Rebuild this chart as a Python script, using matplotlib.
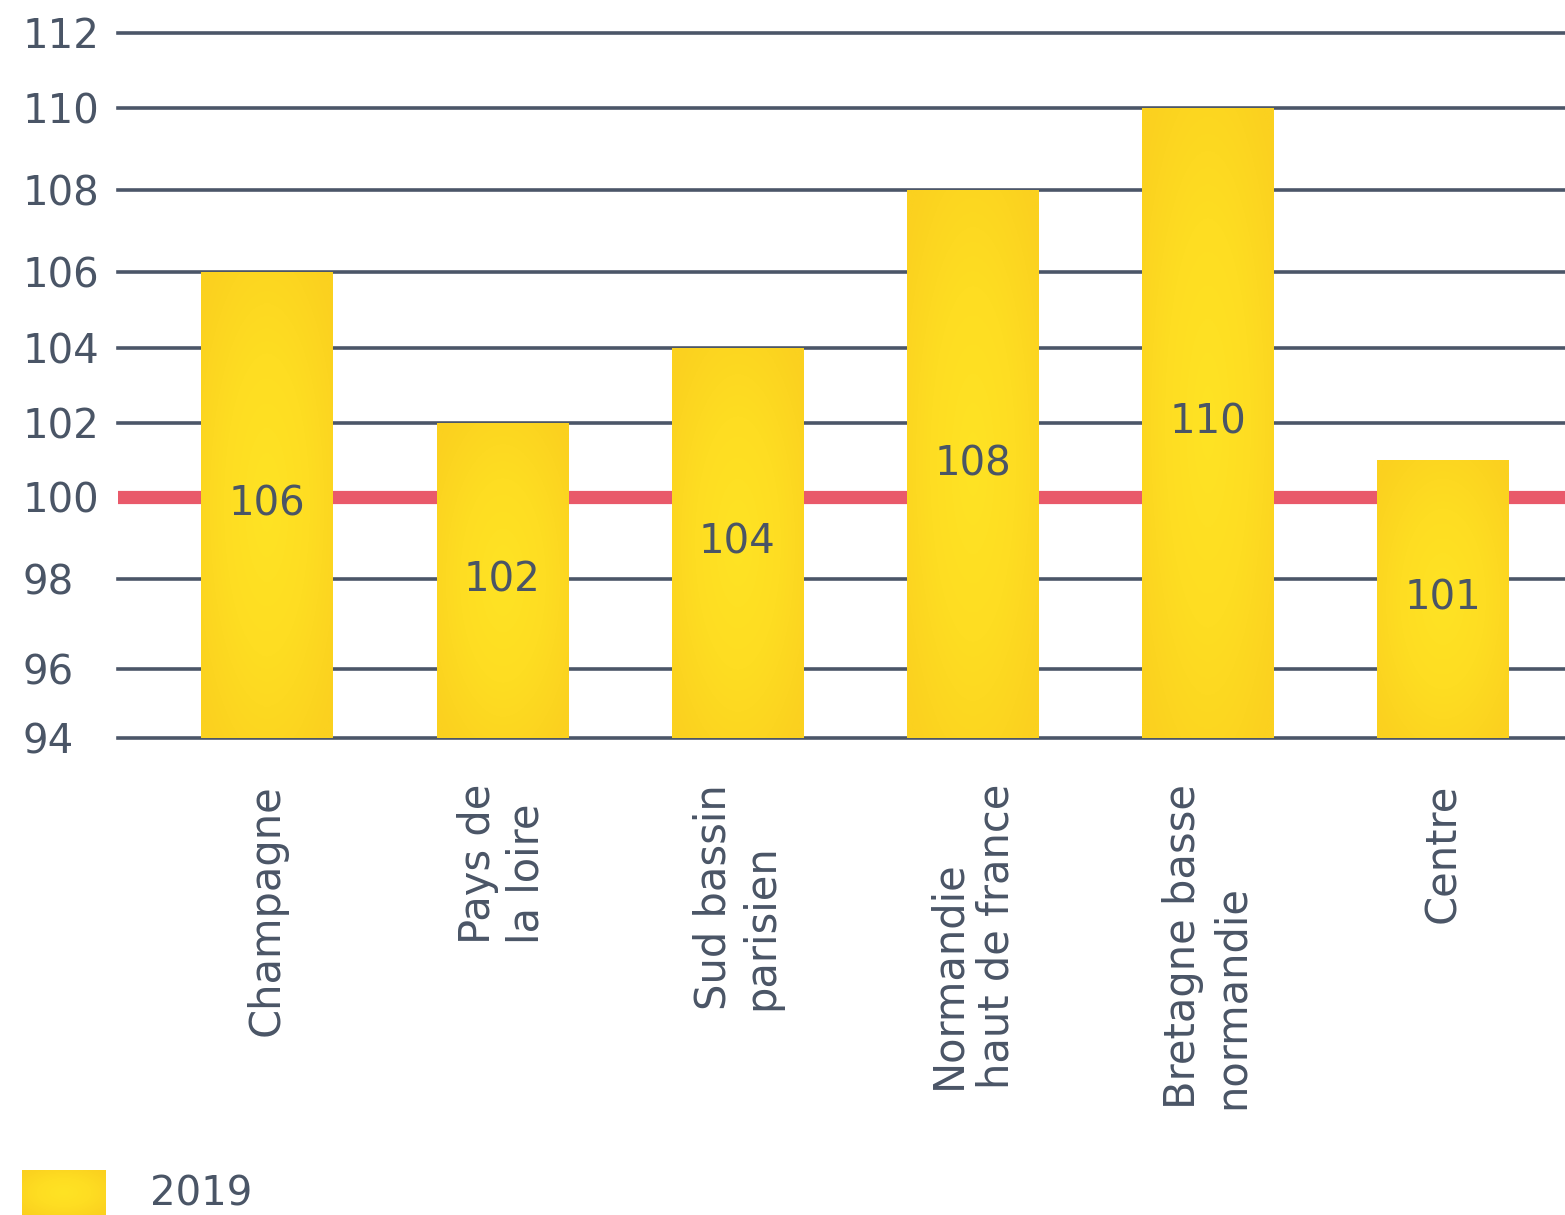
import matplotlib
matplotlib.use("Agg")
import matplotlib.pyplot as plt
import numpy as np
from matplotlib.colors import LinearSegmentedColormap

regions = ["Champagne", "Pays de\nla loire", "Sud bassin\nparisien",
           "Normandie\nhaut de france", "Bretagne basse\nnormandie", "Centre"]
values = [106, 102, 104, 108, 110, 101]
yticks = [94, 96, 98, 100, 102, 104, 106, 108, 110, 112]
series_name = "2019"
reference = 100

# the source chart spaces its gridlines a bit unevenly, keep that look
tick_px = np.array([738, 669, 579, 497, 423, 348, 272, 190, 108, 33])
tick_frac = (738 - tick_px) / (738 - 33)

def fwd(v):
    return np.interp(v, yticks, tick_frac)

def inv(f):
    return np.interp(f, tick_frac, yticks)

text_col = "#4a5566"
grid_col = "#4b5668"
red = "#e9596a"
gold = LinearSegmentedColormap.from_list("gold", ["#ffe324", "#fedd22", "#fbd11f"])

plt.rcParams["font.family"] = ["DejaVu Sans"]

fig = plt.figure(figsize=(15.65, 12.15), dpi=100)
ax = fig.add_axes([118 / 1565, 1 - 738 / 1215, 1 - 118 / 1565, (738 - 33) / 1215])
ax.set_yscale("function", functions=(fwd, inv))
xlim = (-0.633, 5.519)
ylim = (94, 112)
ax.set_xlim(*xlim)
ax.set_ylim(*ylim)

for t in yticks:
    if t == reference:
        continue
    ax.axhline(t, color=grid_col, lw=2.6, zorder=1, clip_on=False)
ax.axhline(reference, color=red, lw=9.5, zorder=1)

x = np.arange(len(values))
width = 0.557
bars = ax.bar(x, [v - ylim[0] for v in values], bottom=ylim[0], width=width,
              color="#fddb22", linewidth=0, zorder=2)

# radial gradient fill in each bar
gy, gx = np.mgrid[-1:1:200j, -1:1:200j]
grad = np.clip(np.sqrt(gx ** 2 + gy ** 2) / 1.3, 0, 1)
for b, v in zip(bars, values):
    x0 = (b.get_x() - xlim[0]) / (xlim[1] - xlim[0])
    x1 = (b.get_x() + b.get_width() - xlim[0]) / (xlim[1] - xlim[0])
    y1 = float(fwd(v))
    im = ax.imshow(grad, cmap=gold, extent=(x0, x1, 0, y1), transform=ax.transAxes,
                   aspect="auto", zorder=3, interpolation="bilinear")
    im.set_clip_path(b)
    ax.text(b.get_x() + b.get_width() / 2, y1 / 2, str(v), ha="center", va="center",
            fontsize=29, color=text_col, zorder=4,
            transform=ax.get_xaxis_transform())

ax.set_xlim(*xlim)
ax.set_ylim(*ylim)
ax.set_aspect("auto")

ax.set_yticks(yticks)
ax.set_yticklabels([str(t) for t in yticks], fontsize=29, color=text_col, ha="left")
ax.tick_params(axis="y", length=0, pad=69)
ax.set_xticks(x)
ax.set_xticklabels(regions, rotation=90, fontsize=30, color=text_col,
                   multialignment="left", linespacing=1.2)
ax.tick_params(axis="x", length=0, pad=33)
for s in ax.spines.values():
    s.set_visible(False)

# legend
lax = fig.add_axes([22 / 1565, 0, 83 / 1565, 45 / 1215])
lax.imshow(grad, cmap=gold, aspect="auto", extent=(0, 1, 0, 1))
lax.axis("off")
fig.text(150 / 1565, 9 / 1215, series_name, fontsize=29, color=text_col,
         ha="left", va="baseline")

fig.savefig("out.png", dpi=100)
